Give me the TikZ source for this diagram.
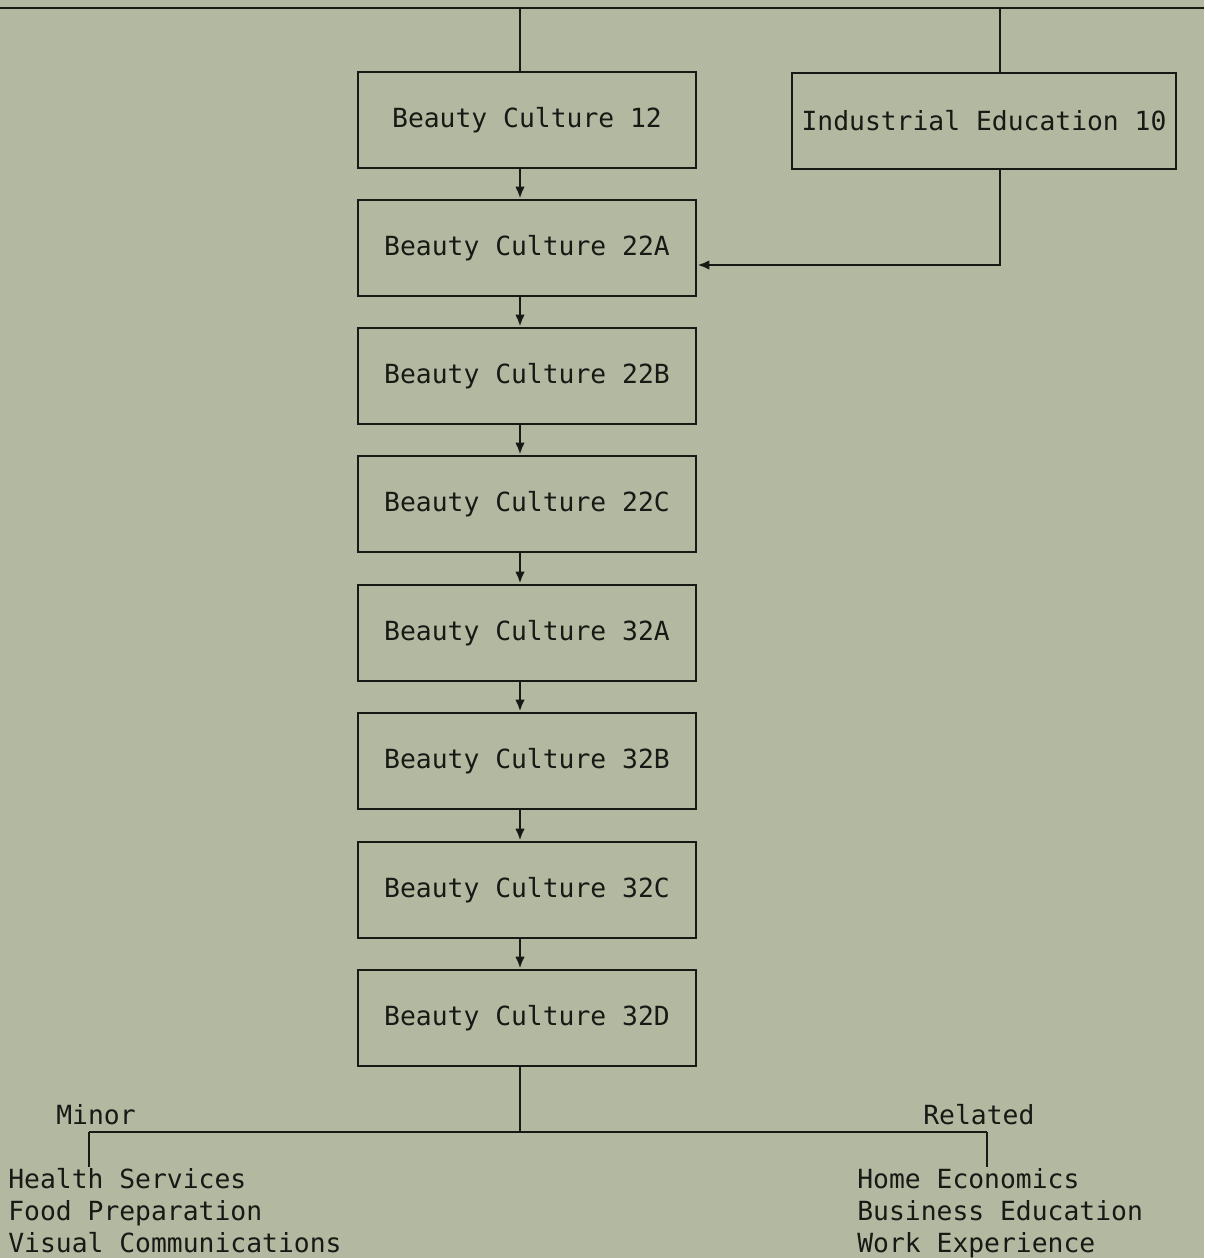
\documentclass[tikz,border=0pt]{standalone}
\usepackage{fontspec}
\setmainfont{DejaVu Sans Mono}
\usepackage{tikz}
\usetikzlibrary{calc, arrows.meta}
\tikzset{>={Latex[length=2.4mm,width=1.9mm]}}
\definecolor{scanbg}{RGB}{179, 185, 161}
\definecolor{typeink}{RGB}{24, 24, 20}
\tikzset{course/.style={draw=typeink, line width=1.5pt, minimum width=6.76cm, minimum height=1.92cm, inner sep=0pt}}
\begin{document}
\begin{tikzpicture}[x=0.02cm, y=-0.02cm, color=typeink, line width=1.5pt, font=\fontsize{15}{18.2}\selectfont]
\fill[scanbg] (0,0) rectangle (1204,1258);
\useasboundingbox (0,0) rectangle (1204,1258);
\coordinate (topleft) at (0,8);
\coordinate (topright) at (1204,8);
\coordinate (spine) at (520,8);
\coordinate (indx) at (1000,265);
\coordinate (minorfork) at (89,1132);
\coordinate (relfork) at (987,1132);
\node[course] (bc12) at (527,120) {Beauty Culture 12};
\node[course] (bc22a) at (527,248) {Beauty Culture 22A};
\node[course] (bc22b) at (527,376) {Beauty Culture 22B};
\node[course] (bc22c) at (527,504) {Beauty Culture 22C};
\node[course] (bc32a) at (527,633) {Beauty Culture 32A};
\node[course] (bc32b) at (527,761) {Beauty Culture 32B};
\node[course] (bc32c) at (527,890) {Beauty Culture 32C};
\node[course] (bc32d) at (527,1018) {Beauty Culture 32D};
\node[course, minimum width=7.68cm] (ind) at (984,121) {Industrial Education 10};
\node[anchor=base west, inner sep=0pt] (minorlbl) at (55,1124) {Minor};
\node[anchor=base west, inner sep=0pt] (rellbl) at (922,1124) {Related};
\node[anchor=north west, inner sep=0pt, align=left] (minorlist) at (7,1167) {Health Services\\Food Preparation\\Visual Communications};
\node[anchor=north west, inner sep=0pt, align=left] (rellist) at (856,1167) {Home Economics\\Business Education\\Work Experience};
\draw (topleft) -- (topright);
\draw (spine) -- (bc12.north -| spine);
\draw (indx |- spine) -- (ind.north -| indx);
\draw[->] (bc12.south -| spine) -- (bc22a.north -| spine);
\draw[->] (bc22a.south -| spine) -- (bc22b.north -| spine);
\draw[->] (bc22b.south -| spine) -- (bc22c.north -| spine);
\draw[->] (bc22c.south -| spine) -- (bc32a.north -| spine);
\draw[->] (bc32a.south -| spine) -- (bc32b.north -| spine);
\draw[->] (bc32b.south -| spine) -- (bc32c.north -| spine);
\draw[->] (bc32c.south -| spine) -- (bc32d.north -| spine);
\draw[->] (ind.south -| indx) -- (indx) -- (bc22a.east |- indx);
\draw (bc32d.south -| spine) -- (spine |- minorfork);
\draw (minorfork) -- (relfork);
\draw (minorfork) -- (minorfork |- minorlist.north);
\draw (relfork) -- (relfork |- rellist.north);
\end{tikzpicture}
\end{document}
